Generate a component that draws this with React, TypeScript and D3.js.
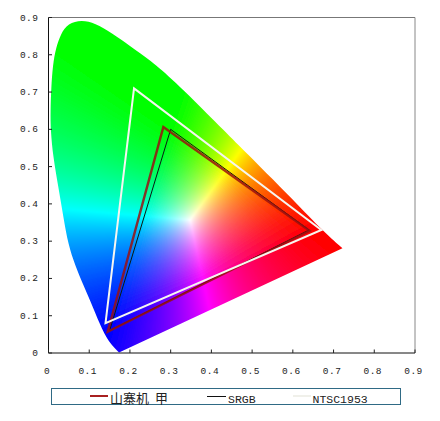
import React, { useMemo } from "react";
import * as d3 from "d3";

const WIDTH = 440;
const HEIGHT = 421;

// Outline of the coloured area: curved boundary
const locusX = [0.1732, 0.1469, 0.1265, 0.102, 0.0855, 0.0651, 0.0486, 0.0364, 0.0241, 0.0113, 0.0052, 0.0048, 0.0066, 0.0105, 0.0185, 0.0305, 0.0476, 0.0816, 0.1143, 0.1553, 0.2002, 0.2494, 0.3066, 0.4049, 0.4705, 0.5155, 0.5852, 0.6712, 0.7219];
const locusY = [0.0013, 0.0303, 0.0751, 0.1422, 0.1824, 0.2361, 0.2897, 0.3656, 0.4461, 0.5266, 0.5982, 0.6473, 0.71, 0.7725, 0.8195, 0.857, 0.884, 0.8935, 0.8845, 0.8584, 0.8235, 0.786, 0.7323, 0.625, 0.5534, 0.5043, 0.4284, 0.33, 0.2808];

// Triangles
const redX = [0.282, 0.641, 0.1454];
const redY = [0.606, 0.328, 0.057];
const srgbX = [0.3, 0.64, 0.15];
const srgbY = [0.6, 0.33, 0.06];
const ntscX = [0.21, 0.67, 0.14];
const ntscY = [0.71, 0.33, 0.08];

const whitePoint = [0.348, 0.357];

const ticks = [0, 0.1, 0.2, 0.3, 0.4, 0.5, 0.6, 0.7, 0.8, 0.9];
const legendLabels = ["山寨机 甲", "SRGB", "NTSC1953"];

const FRAME = { left: 48.5, right: 415, top: 17.5, bottom: 353 };
const MONO = "'Liberation Mono', monospace";

const xScale = d3.scaleLinear().domain([0, 0.9]).range([FRAME.left, FRAME.right]);
const yScale = d3.scaleLinear().domain([0, 0.9]).range([FRAME.bottom, FRAME.top]);

function linearRgb(x: number, y: number): [number, number, number] {
  const X = x / y;
  const Z = (1 - x - y) / y;
  return [
    3.2406 * X - 1.5372 - 0.4986 * Z,
    -0.9689 * X + 1.8758 + 0.0415 * Z,
    0.0557 * X - 0.204 + 1.057 * Z,
  ];
}

function makeGamut(gamma: number): string {
  const w = Math.ceil(FRAME.right - FRAME.left);
  const h = Math.ceil(FRAME.bottom - FRAME.top);
  const canvas = document.createElement("canvas");
  canvas.width = w;
  canvas.height = h;
  const ctx = canvas.getContext("2d")!;
  const img = ctx.createImageData(w, h);
  const gains = linearRgb(whitePoint[0], whitePoint[1]).map((v) => 1 / v);
  for (let j = 0; j < h; j++) {
    for (let i = 0; i < w; i++) {
      const x = xScale.invert(FRAME.left + i + 0.5);
      const y = Math.max(yScale.invert(FRAME.top + j + 0.5), 0.001);
      const c = linearRgb(x, y).map((v, n) => Math.max(v * gains[n], 0));
      const m = Math.max(c[0], c[1], c[2], 1e-6);
      const k = (j * w + i) * 4;
      img.data[k] = 255 * Math.pow(c[0] / m, gamma);
      img.data[k + 1] = 255 * Math.pow(c[1] / m, gamma);
      img.data[k + 2] = 255 * Math.pow(c[2] / m, gamma);
      img.data[k + 3] = 255;
    }
  }
  ctx.putImageData(img, 0, 0);
  return canvas.toDataURL();
}

const triPath = (xs: number[], ys: number[]) =>
  d3.line<number>().x((v) => xScale(v)).y((_, i) => yScale(ys[i]))(xs)! + "Z";

export default function App() {
  const gamut = useMemo(() => makeGamut(1.0), []);
  const outline =
    d3
      .line<number>()
      .x((v) => xScale(v))
      .y((_, i) => yScale(locusY[i]))
      .curve(d3.curveBasis)(locusX)! + "Z";

  return (
    <svg
      width={WIDTH}
      height={HEIGHT}
      style={{ position: "absolute", left: 0, top: 0, display: "block", background: "#fff" }}
    >
      <defs>
        <clipPath id="locus">
          <path d={outline} />
        </clipPath>
        <filter id="soft" x="-5%" y="-5%" width="110%" height="110%">
          <feGaussianBlur stdDeviation="0.5" />
        </filter>
      </defs>

      <g filter="url(#soft)">
        <g clipPath="url(#locus)">
          <image
            href={gamut}
            x={FRAME.left}
            y={FRAME.top}
            width={Math.ceil(FRAME.right - FRAME.left)}
            height={Math.ceil(FRAME.bottom - FRAME.top)}
          />
        </g>
      </g>

      {/* frame */}
      <line x1={FRAME.left} x2={FRAME.right} y1={FRAME.top} y2={FRAME.top} stroke="#777" strokeWidth={1} />
      <line x1={FRAME.right} x2={FRAME.right} y1={FRAME.top} y2={FRAME.bottom} stroke="#888" strokeWidth={1} />
      <line x1={FRAME.left} x2={FRAME.left} y1={FRAME.top} y2={FRAME.bottom} stroke="#111" strokeWidth={1} />
      <line x1={FRAME.left} x2={FRAME.right} y1={FRAME.bottom} y2={FRAME.bottom} stroke="#111" strokeWidth={1} />

      {/* ticks and labels */}
      {ticks.map((t) => (
        <g key={t}>
          <line x1={xScale(t)} x2={xScale(t)} y1={FRAME.bottom} y2={FRAME.bottom - 3.5} stroke="#222" />
          <line x1={FRAME.left} x2={FRAME.left + 3.5} y1={yScale(t)} y2={yScale(t)} stroke="#222" />
          <text
            x={xScale(t) - 1.5}
            y={373.5}
            textAnchor="middle"
            fontFamily={MONO}
            fontSize={9.5}
            letterSpacing={0.5}
            fill="#222"
          >
            {String(t)}
          </text>
          <text
            x={38.5}
            y={yScale(t) + 3}
            textAnchor="end"
            fontFamily={MONO}
            fontSize={9.5}
            letterSpacing={0.5}
            fill="#222"
          >
            {String(t)}
          </text>
        </g>
      ))}

      {/* triangles */}
      <path d={triPath(srgbX, srgbY)} fill="none" stroke="#0b1a10" strokeWidth={1} />
      <path d={triPath(redX, redY)} fill="none" stroke="#9a1010" strokeOpacity={0.85} strokeWidth={2.4} />
      <path d={triPath(ntscX, ntscY)} fill="none" stroke="#f6f6f0" strokeWidth={2} />

      {/* legend */}
      <rect x={51.5} y={388.5} width={349} height={16} fill="#fff" stroke="#2f6a85" strokeWidth={1} />
      <line x1={90} x2={108} y1={396} y2={396} stroke="#a82020" strokeWidth={2} />
      <text x={110} y={402.5} fontFamily="'Noto Sans CJK SC', sans-serif" fontSize={13} wordSpacing={3} fill="#222">
        {legendLabels[0]}
      </text>
      <line x1={207} x2={226} y1={396.5} y2={396.5} stroke="#111" strokeWidth={1} />
      <text x={228} y={402.5} fontFamily={MONO} fontSize={11.5} fill="#222">
        {legendLabels[1]}
      </text>
      <line x1={293} x2={311} y1={396} y2={396} stroke="#f0f0ea" strokeWidth={2} />
      <text x={312.5} y={402.5} fontFamily={MONO} fontSize={11.5} fill="#222">
        {legendLabels[2]}
      </text>
    </svg>
  );
}
